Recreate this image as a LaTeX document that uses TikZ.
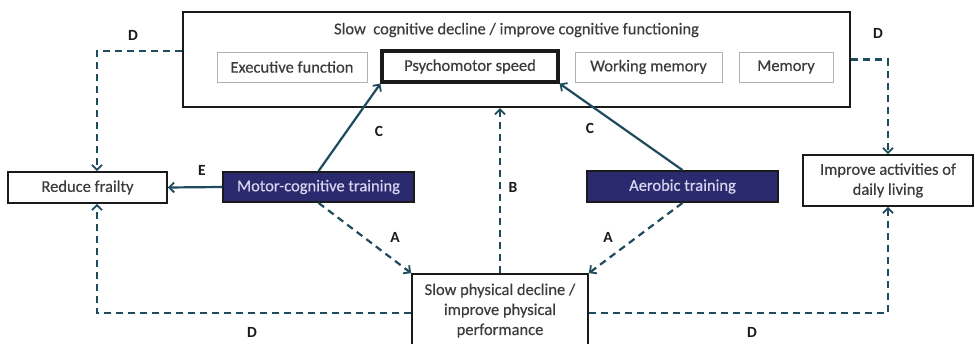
\documentclass[tikz,border=0pt]{standalone}
\usepackage{fontspec}
\setmainfont{Carlito}[FakeBold=0.0]
\newfontfamily\labelfont{Carlito}[FakeBold=0.35]
\usetikzlibrary{arrows.meta,calc}
\definecolor{navy}{HTML}{2C2A6E}
\definecolor{navytext}{HTML}{D6D6F0}
\definecolor{flow}{HTML}{1F4B5E}
\definecolor{ink}{HTML}{1A1A1A}
\tikzset{
  txt/.style={font=\labelfont\fontsize{16.5}{20}\selectfont, text=ink!85},
  box/.style={draw=ink, line width=1.8pt, fill=white, inner sep=0pt, align=center, txt},
  subbox/.style={draw=gray!60, line width=0.8pt, inner sep=0pt, txt},
  training/.style={draw=ink, line width=1.8pt, fill=navy, inner sep=0pt, txt, text=navytext},
  link/.style={draw=flow, line width=2.2pt, -{Straight Barb[length=5pt,width=10pt,line width=1.8pt]}},
  dlink/.style={link, dash pattern=on 7pt off 5pt},
  tag/.style={font=\bfseries\fontsize{15.5}{17}\selectfont, text=ink}
}
\begin{document}
\begin{tikzpicture}[x=1pt,y=-1pt]
\useasboundingbox (0,0) rectangle (975,344);
\clip (0,0) rectangle (975,344);
\fill[white] (0,0) rectangle (975,344);

% cognitive outcome panel
\node[box, line width=2.2pt, minimum width=667pt, minimum height=95pt] (outer) at (516.5,59.5) {};
\node[txt] (title) at (516.5,30) {Slow~ cognitive decline / improve cognitive functioning};
\node[subbox, minimum width=150pt, minimum height=30pt] (exec) at (292,67) {Executive function};
\node[box, line width=3.2pt, minimum width=176pt, minimum height=31pt] (psycho) at (470,66.5) {Psychomotor speed};
\node[subbox, minimum width=147pt, minimum height=30pt] (work) at (648.5,67) {Working memory};
\node[subbox, minimum width=94pt, minimum height=30pt] (mem) at (786,67) {Memory};

% interventions
\node[training, minimum width=191pt, minimum height=30pt] (motor) at (318.5,187) {Motor-cognitive training};
\node[training, minimum width=191pt, minimum height=31pt] (aerobic) at (682.5,186.5) {Aerobic training};

% other outcomes
\node[box, minimum width=159pt, minimum height=31pt] (frailty) at (87.5,187.5) {Reduce frailty};
\node[box, minimum width=170pt, minimum height=51pt] (adl) at (888,180.5) {Improve activities of\\daily living};
\node[box, minimum width=176pt, minimum height=92pt] (phys) at (500,320) {};
\node[txt, align=center, anchor=north] (physlabel) at (500,280) {Slow physical decline /\\improve physical\\performance};

% routing column and row for the D paths
\coordinate (dl) at (97,51);
\coordinate (dbl) at (0,313);

% C: training to psychomotor speed
\draw[link] (motor.north) -- (psycho.south west);
\draw[link] (aerobic.north) -- (psycho.south east);
% E: motor-cognitive training to frailty
\draw[link] (motor.west) -- (frailty.east);
% A: training to physical performance
\draw[dlink] (motor.south) -- (phys.north west);
\draw[dlink] (aerobic.south) -- (phys.north east);
% B: physical to cognitive
\draw[dlink] (phys.north) -- (phys.north |- outer.south);
% D: transfer to frailty and daily living
\draw[dlink] (outer.west |- dl) -| (frailty.north -| dl);
\draw[dlink] (outer.east) -| (adl.north);
\draw[dlink] (phys.west |- dbl) -| (frailty.south -| dl);
\draw[dlink] (phys.east |- dbl) -| (adl.south);

% path letters
\node[tag] (lC1) at (379,131) {C};
\node[tag] (lC2) at (590,128) {C};
\node[tag] (lB) at (513,187) {B};
\node[tag] (lA1) at (395,237) {A};
\node[tag] (lA2) at (608,237) {A};
\node[tag] (lE) at (202,170) {E};
\node[tag] (lD1) at (133,35) {D};
\node[tag] (lD2) at (878,33) {D};
\node[tag] (lD3) at (252,332) {D};
\node[tag] (lD4) at (752,332) {D};
\end{tikzpicture}
\end{document}
